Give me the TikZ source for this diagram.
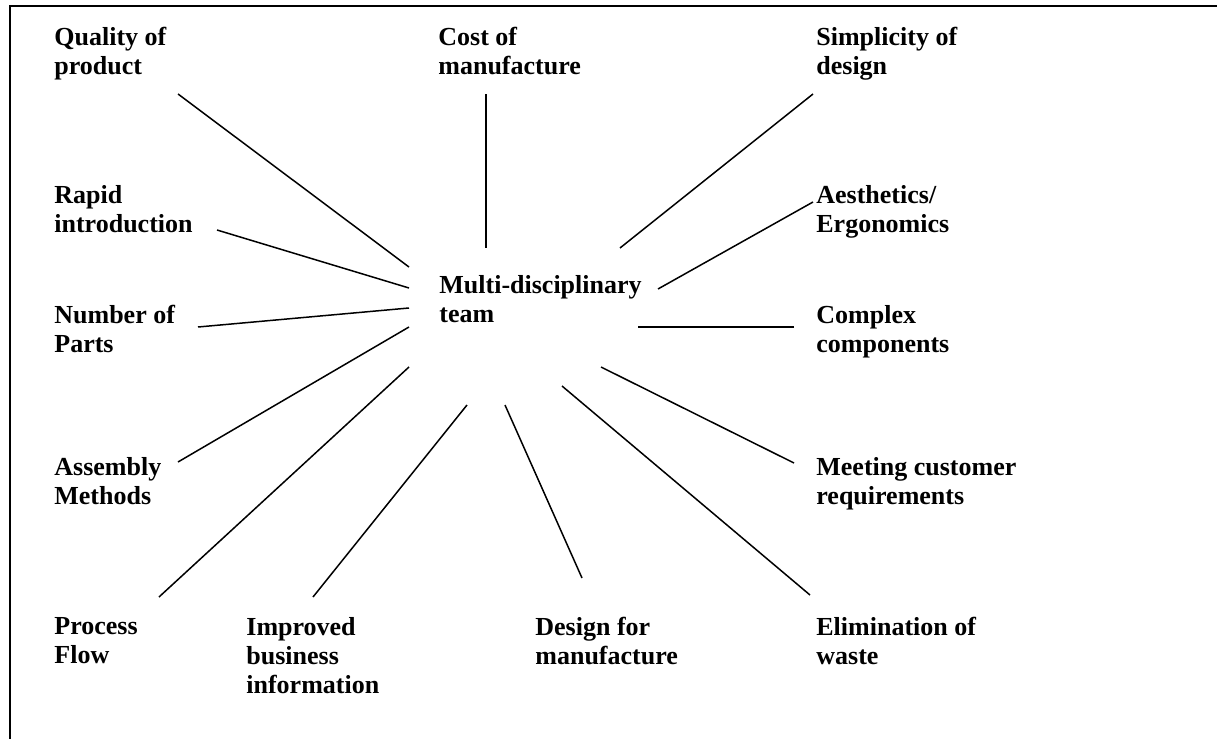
\documentclass[tikz,border=0pt]{standalone}
\usepackage{fontspec}
\setmainfont{Liberation Serif}
\usepackage{tikz}

\begin{document}
\begin{tikzpicture}[x=0.5pt,y=-0.5pt]
        \useasboundingbox (0,0) rectangle (1217,739);
        \draw[line width=1pt] (9.5,739) -- (9.5,6) -- (1217,6);
        \begin{scope}[every node/.style={anchor=north west, inner sep=0, align=left, font=\fontsize{13}{14.5}\selectfont\bfseries}]
                \node (MT) at (439,275) {Multi-disciplinary\\team};
                \node (QP) at (54,27) {Quality of\\product};
                \node (CM) at (438,27) {Cost of\\manufacture};
                \node (SD) at (816,27) {Simplicity of\\design};
                \node (RI) at (54,185) {Rapid\\introduction};
                \node (AE) at (816,185) {Aesthetics/\\Ergonomics};
                \node (NP) at (54,305) {Number of\\Parts};
                \node (CC) at (816,305) {Complex\\components};
                \node (AM) at (54,457) {Assembly\\Methods};
                \node (MC) at (816,457) {Meeting customer\\requirements};
                \node (PF) at (54,617) {Process\\Flow};
                \node (IB) at (246,617) {Improved\\business\\information};
                \node (DM) at (535,617) {Design for\\manufacture};
                \node (EW) at (816,617) {Elimination of\\waste};
        \end{scope}
        % ends of the spokes: o = by the label, t = by the team
        \coordinate (oQP) at (178,94);  \coordinate (tQP) at (409,267);
        \coordinate (oCM) at (486,94);  \coordinate (tCM) at (486,248);
        \coordinate (oSD) at (813,94);  \coordinate (tSD) at (620,248);
        \coordinate (oRI) at (217,230); \coordinate (tRI) at (409,288);
        \coordinate (oAE) at (813,202); \coordinate (tAE) at (658,289);
        \coordinate (oNP) at (198,327); \coordinate (tNP) at (409,308);
        \coordinate (oCC) at (794,327); \coordinate (tCC) at (638,327);
        \coordinate (oAM) at (178,462); \coordinate (tAM) at (409,327);
        \coordinate (oMC) at (794,463); \coordinate (tMC) at (601,367);
        \coordinate (oPF) at (159,597); \coordinate (tPF) at (409,367);
        \coordinate (oIB) at (313,597); \coordinate (tIB) at (467,405);
        \coordinate (oDM) at (582,578); \coordinate (tDM) at (505,405);
        \coordinate (oEW) at (810,595); \coordinate (tEW) at (562,386);
        \begin{scope}[every path/.style={line width=0.75pt}]
                \foreach \n in {QP,CM,SD,RI,AE,NP,CC,AM,MC,PF,IB,DM,EW}
                        \path (o\n) edge (t\n);
        \end{scope}
\end{tikzpicture}
\end{document}
